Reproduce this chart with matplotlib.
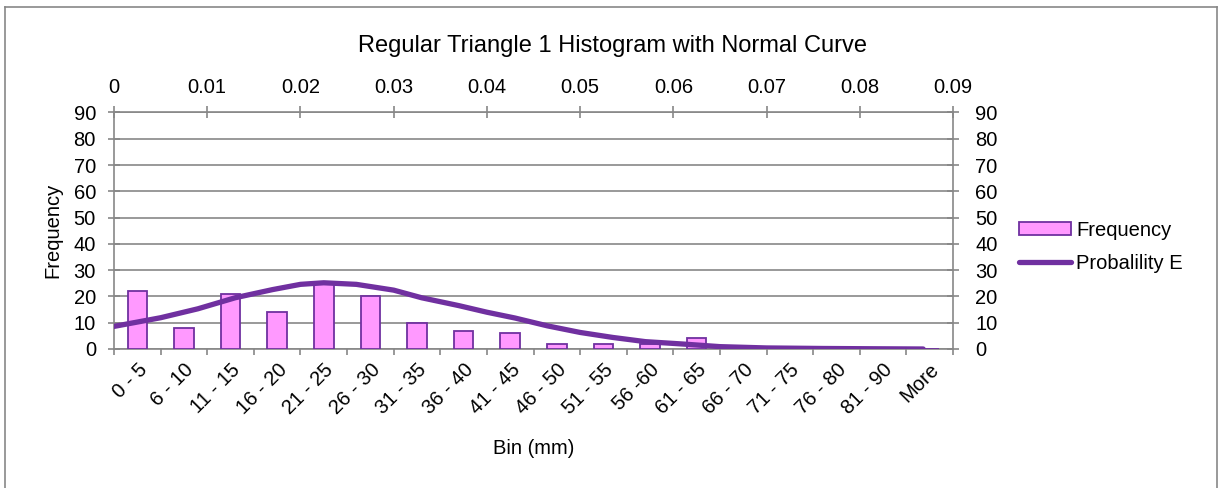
import numpy as np
import matplotlib.pyplot as plt
from matplotlib.lines import Line2D
from matplotlib.ticker import FuncFormatter

plt.rcParams['font.family'] = ['Liberation Sans', 'DejaVu Sans']

# Histogram bins and counts
bins = ['0 - 5', '6 - 10', '11 - 15', '16 - 20', '21 - 25', '26 - 30', '31 - 35',
        '36 - 40', '41 - 45', '46 - 50', '51 - 55', '56 -60', '61 - 65', '66 - 70',
        '71 - 75', '76 - 80', '81 - 90', 'More']
freq = [22, 8, 21, 14, 25, 20, 10, 7, 6, 2, 2, 2, 4, 0, 0, 0, 0, 0]

curve_x = [0.0, 0.005, 0.009, 0.013, 0.017, 0.02, 0.0225, 0.026, 0.03, 0.033, 0.037,
           0.04, 0.043, 0.0465, 0.05, 0.0535, 0.057, 0.061, 0.065, 0.07, 0.076,
           0.081, 0.0868]
curve_y = [8.6, 11.9, 15.3, 19.5, 22.6, 24.6, 25.2, 24.6, 22.4, 19.5, 16.5,
           14.0, 11.8, 8.8, 6.3, 4.4, 2.8, 1.9, 0.9, 0.4, 0.2, 0.1, 0.0]

grey = '#878787'
fill = '#FF99FF'
purple = '#7030A0'
fs = 14.5

fig = plt.figure(figsize=(12.18, 4.88), dpi=100)
# chart area border (left, top, right)
for xs, ys in [([0.004, 0.004], [-0.1, 0.985]), ([0.004, 0.999], [0.985, 0.985]),
               ([0.999, 0.999], [0.985, -0.1])]:
    fig.add_artist(Line2D(xs, ys, transform=fig.transFigure, color=grey, lw=1.2))

pos = [114 / 1218, 1 - 349 / 488, 839 / 1218, 236.5 / 488]
ax = fig.add_axes(pos)
x = np.arange(len(bins))
ax.bar(x, freq, width=0.42, color=fill, edgecolor=purple, lw=1.3,
       label='Frequency', zorder=3)
ax.set_xlim(-0.5, len(bins) - 0.5)
ax.set_ylim(0, 90)
ax.set_yticks(range(0, 91, 10))
ax.yaxis.grid(True, color=grey, lw=1.2)
ax.set_axisbelow(True)
ax.set_xticks(x)
ax.set_xticklabels(bins, rotation=45, ha='right', va='top', rotation_mode='anchor')
ax.set_xticks(np.arange(-0.5, len(bins)), minor=True)
ax.tick_params(axis='x', which='major', length=0, pad=8, labelsize=fs)
ax.tick_params(axis='x', which='minor', length=4, color=grey, width=1.2, direction='out')
ax.tick_params(axis='y', length=8, width=1.2, direction='inout', color=grey,
               labelsize=fs, pad=9)
for s in ax.spines.values():
    s.set_color(grey)
    s.set_linewidth(1.2)
ax.set_ylabel('Frequency', fontsize=fs, labelpad=8)
ax.set_xlabel('Bin (mm)', fontsize=fs, labelpad=15)

ax2 = fig.add_axes(pos, frameon=False)
ax2.plot(curve_x, curve_y, color=purple, lw=3.8, solid_capstyle='round',
         solid_joinstyle='round', label='Probalility E', zorder=4)
ax2.set_xlim(0, 0.09)
ax2.set_ylim(0, 90)
ax2.set_xticks(np.arange(0, 0.0901, 0.01))
ax2.xaxis.set_major_formatter(FuncFormatter(lambda v, p: '%g' % round(v, 3)))
ax2.set_yticks(range(0, 91, 10))
ax2.xaxis.tick_top()
ax2.yaxis.tick_right()
ax2.tick_params(axis='x', length=8, width=1.2, direction='inout', color=grey,
                labelsize=fs, pad=7)
ax2.tick_params(axis='y', length=8, width=1.2, direction='inout', color=grey,
                labelsize=fs, pad=12)

fig.text(613 / 1218, 1 - 46 / 488, 'Regular Triangle 1 Histogram with Normal Curve',
         ha='center', va='center', fontsize=17)

h1, l1 = ax.get_legend_handles_labels()
h2, l2 = ax2.get_legend_handles_labels()
fig.legend(h1 + h2, l1 + l2, loc='center left', bbox_to_anchor=(1019 / 1218, 1 - 247 / 488),
           frameon=False, fontsize=fs, handlelength=2.6, handleheight=0.6,
           handletextpad=0.25, labelspacing=0.7, borderpad=0, borderaxespad=0)

fig.savefig('out.png', dpi=100)
